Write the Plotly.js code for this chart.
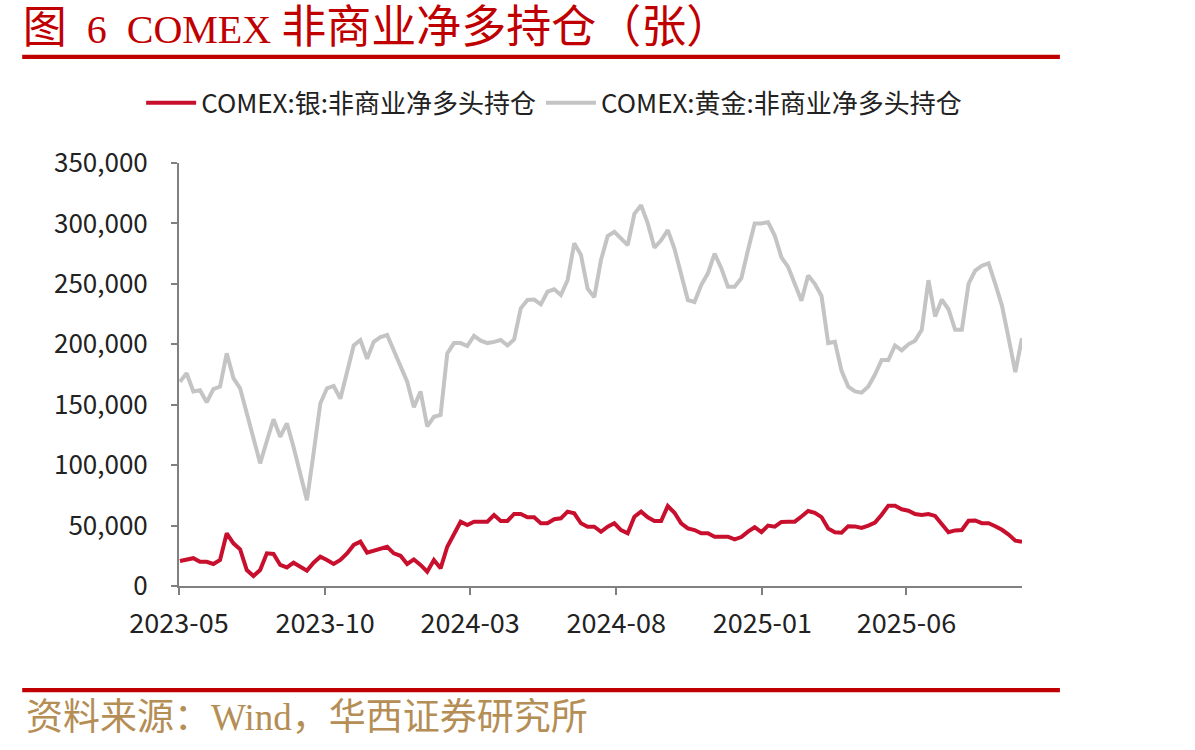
<!DOCTYPE html>
<html>
<head>
<meta charset="utf-8">
<script src="https://cdn.plot.ly/plotly-3.0.1.min.js"></script>
<style>html,body{margin:0;padding:0;background:#fff;}#chart{width:1195px;height:750px;}</style>
</head>
<body>
<div id="chart"></div>
<script>
const dates = [
'2023-05-02','2023-05-09','2023-05-16','2023-05-23','2023-05-30','2023-06-06','2023-06-13','2023-06-20','2023-06-27','2023-07-04',
'2023-07-11','2023-07-18','2023-07-25','2023-08-01','2023-08-08','2023-08-15','2023-08-22','2023-08-29','2023-09-05','2023-09-12',
'2023-09-19','2023-09-26','2023-10-03','2023-10-10','2023-10-17','2023-10-24','2023-10-31','2023-11-07','2023-11-14','2023-11-21',
'2023-11-28','2023-12-05','2023-12-12','2023-12-19','2023-12-26',
'2024-01-02','2024-01-09','2024-01-16','2024-01-23','2024-01-30','2024-02-06','2024-02-13','2024-02-20','2024-02-27','2024-03-05',
'2024-03-12','2024-03-19','2024-03-26','2024-04-02','2024-04-09','2024-04-16','2024-04-23','2024-04-30','2024-05-07','2024-05-14',
'2024-05-21','2024-05-28','2024-06-04','2024-06-11','2024-06-18','2024-06-25','2024-07-02','2024-07-09','2024-07-16','2024-07-23',
'2024-07-30','2024-08-06','2024-08-13','2024-08-20','2024-08-27','2024-09-03','2024-09-10','2024-09-17','2024-09-24','2024-10-01',
'2024-10-08','2024-10-15','2024-10-22','2024-10-29','2024-11-05','2024-11-12','2024-11-19','2024-11-26','2024-12-03','2024-12-10',
'2024-12-17','2024-12-24','2024-12-31',
'2025-01-07','2025-01-14','2025-01-21','2025-01-28','2025-02-04','2025-02-11','2025-02-18','2025-02-25','2025-03-04','2025-03-11',
'2025-03-18','2025-03-25','2025-04-01','2025-04-08','2025-04-15','2025-04-22','2025-04-29','2025-05-06','2025-05-13','2025-05-20',
'2025-05-27','2025-06-03','2025-06-10','2025-06-17','2025-06-24','2025-07-01','2025-07-08','2025-07-15','2025-07-22','2025-07-29',
'2025-08-05','2025-08-12','2025-08-19','2025-08-26','2025-09-02','2025-09-09','2025-09-16','2025-09-23','2025-09-30'
];

const silverNet = [
20700,21500,23000,20000,20000,18200,21500,43600,35300,30400,
13200,8300,13200,27000,26500,17400,15400,19300,16000,12700,
19300,24200,21500,18200,21500,27000,34000,36700,27600,29200,
31200,32500,27000,25000,18200,22000,17400,11800,21500,14600,
32500,42200,53200,50500,53200,53200,53200,58700,53800,53800,
59600,59600,56800,56800,51900,51900,55200,56000,61500,60100,
51900,49100,49100,44900,49100,51900,46300,43600,57300,61500,
56800,53800,53800,66200,60600,51900,47700,46300,43600,43600,
40800,40800,40800,38500,40500,45000,48600,44500,50000,49100,
53000,53200,53200,57500,62000,60500,57000,47500,44500,44100,
49500,49300,48000,50000,52500,59000,66500,66500,63500,62300,
59500,58700,59500,58000,51500,44500,46000,46300,54000,54200,
52000,51900,49500,46500,42500,37500,36700
];

const goldNet = [
169000,176000,161000,162000,152000,163000,165000,192500,172000,163600,
143000,122000,101500,120000,138000,123500,134600,115000,93000,71000,
110000,151000,163600,165500,155000,177000,199000,203500,188000,202000,
206000,207700,195000,182000,169000,148000,161000,132000,140000,141500,
192500,201000,201000,198600,207000,203000,201000,202000,203500,199000,
204000,229800,236600,237000,233000,243500,245500,240800,253000,283500,
274000,246000,239000,269700,289500,293000,287700,282000,308000,315000,
300000,280000,286000,294500,279000,258700,236600,235000,249000,258700,
275000,263000,247600,247600,254600,278000,300000,300000,301000,290000,
272000,264000,250000,236000,257000,250000,240000,201000,202000,178000,
165000,161000,160000,165000,175000,187000,187000,199000,195000,200000,
203000,212000,253000,223000,237000,229000,212000,212000,250000,261000,
265000,267000,250000,232000,205000,177000,205000
];

const seriesNames = ['COMEX:银:非商业净多头持仓', 'COMEX:黄金:非商业净多头持仓'];
const xTickVals = ['2023-05-01','2023-10-01','2024-03-01','2024-08-01','2025-01-01','2025-06-01'];
const yTickVals = [0,50000,100000,150000,200000,250000,300000,350000];
const titleText = '<span style="font-size:44px">图</span>  6  COMEX <span style="font-size:45px">非商业净多持仓（张）</span>';
const sourceText = '资料来源：Wind，华西证券研究所';

const cjk = '"Noto Sans CJK SC", "Noto Sans", sans-serif';
const serif = '"Liberation Serif", "Noto Sans CJK SC", serif';

const traces = [
  {x: dates, y: silverNet, name: seriesNames[0], type: 'scatter', mode: 'lines',
   line: {color: '#C8102E', width: 4}},
  {x: dates, y: goldNet, name: seriesNames[1], type: 'scatter', mode: 'lines',
   line: {color: '#C4C4C4', width: 4}}
];

const layout = {
  width: 1195, height: 750,
  margin: {l: 179, r: 173, t: 163, b: 164},
  paper_bgcolor: '#fff', plot_bgcolor: '#fff',
  showlegend: true,
  title: {text: titleText, font: {family: serif, size: 40, color: '#C00000'},
          xref: 'container', yref: 'container', x: 0.019, xanchor: 'left', y: 0.962, yanchor: 'middle'},
  legend: {orientation: 'h', x: 0.445, xanchor: 'center', y: 1.142, yanchor: 'middle',
           font: {family: cjk, size: 26, color: '#222'}, itemwidth: 50, bgcolor: 'rgba(0,0,0,0)'},
  xaxis: {type: 'date', range: ['2023-05-01', '2025-09-30'], tickvals: xTickVals, tickformat: '%Y-%m',
          showgrid: false, zeroline: false, showline: true, linecolor: '#808080', linewidth: 2,
          ticks: 'outside', ticklen: 7, tickcolor: '#808080', tickwidth: 2,
          tickfont: {family: cjk, size: 27, color: '#222'}, ticklabelstandoff: 6},
  yaxis: {range: [0, 350000], tickvals: yTickVals, tickformat: ',',
          showgrid: false, zeroline: false, showline: true, linecolor: '#808080', linewidth: 2,
          ticks: 'outside', ticklen: 6, tickcolor: '#808080', tickwidth: 2,
          tickfont: {family: cjk, size: 26, color: '#222'}, ticklabelstandoff: 18},
  shapes: [
    {type: 'rect', xref: 'paper', yref: 'paper', x0: -0.186, x1: 1.045, y0: 1.246, y1: 1.256,
     fillcolor: '#C00000', line: {width: 0}},
    {type: 'rect', xref: 'paper', yref: 'paper', x0: -0.186, x1: 1.045, y0: -0.251, y1: -0.241,
     fillcolor: '#C00000', line: {width: 0}}
  ],
  annotations: [
    {text: sourceText, xref: 'paper', yref: 'paper', x: -0.184, xanchor: 'left', y: -0.31, yanchor: 'middle',
     showarrow: false, font: {family: serif, size: 37, color: '#B48E55'}}
  ]
};

Plotly.newPlot('chart', traces, layout, {displayModeBar: false, staticPlot: true});
</script>
</body>
</html>
